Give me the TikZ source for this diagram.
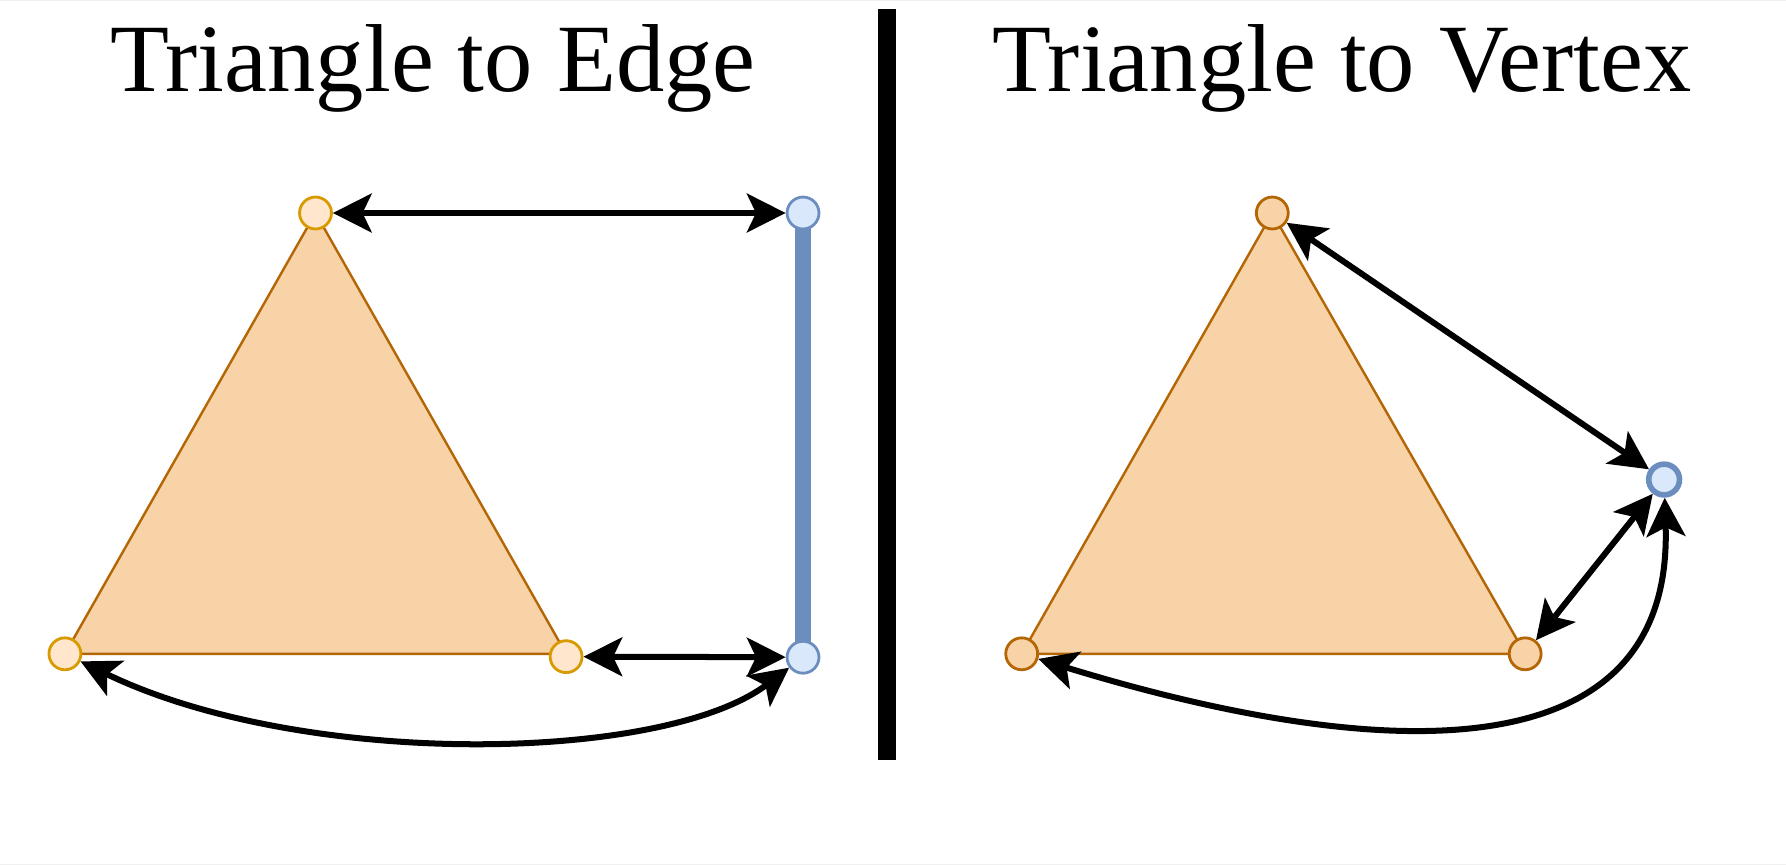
\documentclass[tikz,border=0pt]{standalone}
\usepackage{fontspec}
\setmainfont{Liberation Serif}
\usetikzlibrary{arrows.meta}
\definecolor{trifill}{HTML}{F9D3A8}
\definecolor{tristroke}{HTML}{B46504}
\definecolor{ptfill}{HTML}{FFE6CC}
\definecolor{ptstroke}{HTML}{D79B00}
\definecolor{bluefill}{HTML}{DAE8FC}
\definecolor{bluestroke}{HTML}{6C8EBF}
\begin{document}
\begin{tikzpicture}[x=0.01cm,y=-0.01cm,
  >={Stealth[length=3.4mm,width=3.4mm,inset=0.8mm]},
  dbl/.style={<->,line width=1.5pt},
  tri/.style={fill=trifill,draw=tristroke,line width=0.6pt},
  lpt/.style={circle,inner sep=0pt,minimum size=2.8mm,fill=ptfill,draw=ptstroke,line width=0.7pt},
  rpt/.style={circle,inner sep=0pt,minimum size=2.8mm,fill=trifill,draw=tristroke,line width=0.7pt},
  bpt/.style={circle,inner sep=0pt,minimum size=2.8mm,fill=bluefill,draw=bluestroke,line width=0.7pt},
  title/.style={anchor=base,font=\fontsize{24.1}{29}\selectfont}]
\useasboundingbox (0,0) rectangle (1568,759.4);
\draw[gray!12,line width=0.3pt] (0,0.5) -- (1568,0.5);
\draw[gray!12,line width=0.3pt] (0,758.9) -- (1568,758.9);

% titles and divider
\node[title] (tedge) at (380,80) {Triangle to Edge};
\node[title] (tvert) at (1178,80) {Triangle to Vertex};
\draw[line width=0.16cm] (779,8) -- (779,667);

% triangle to edge
\coordinate (a1) at (277,187);
\coordinate (b1) at (57,574);
\coordinate (c1) at (497,574);
\draw[tri] (a1) -- (b1) -- (c1) -- cycle;
\draw[bluestroke,line width=0.135cm] (705,187) -- (705,577);
\node[lpt] (ltop) at (a1) {};
\node[lpt] (lbl) at (b1) {};
\node[lpt] (lbr) at (497,576.5) {};
\node[bpt] (etop) at (705,187) {};
\node[bpt] (ebot) at (705,577) {};
\draw[dbl] (ltop) -- (etop);
\draw[dbl] (lbr) -- (ebot);
\draw[dbl] (lbl) .. controls +(208,101) and +(-123,93) .. (ebot);

% triangle to vertex
\coordinate (a2) at (1117,187);
\coordinate (b2) at (897,574);
\coordinate (c2) at (1339,574);
\draw[tri] (a2) -- (b2) -- (c2) -- cycle;
\node[rpt] (rtop) at (a2) {};
\node[rpt] (rbl) at (b2) {};
\node[rpt] (rbr) at (c2) {};
\node[bpt,line width=1.4pt,minimum size=2.7mm] (vert) at (1461,421) {};
\draw[dbl] (rtop) -- (vert);
\draw[dbl] (rbr) -- (vert);
\draw[dbl] (rbl) .. controls +(280,86) and +(9,275) .. (vert);
\end{tikzpicture}
\end{document}
